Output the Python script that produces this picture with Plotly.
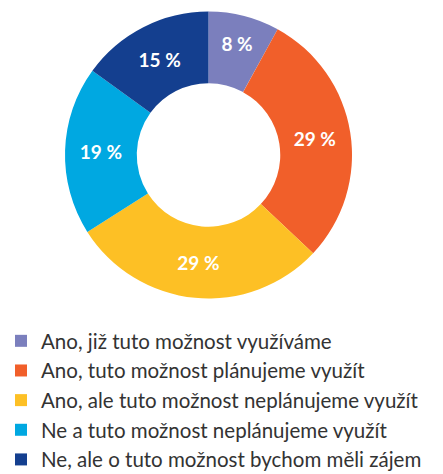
import plotly.graph_objects as go

labels = [
    "Ano, již tuto možnost využíváme",
    "Ano, tuto možnost plánujeme využít",
    "Ano, ale tuto možnost neplánujeme využít",
    "Ne a tuto možnost neplánujeme využít",
    "Ne, ale o tuto možnost bychom měli zájem",
]
values = [8, 29, 29, 19, 15]
colors = ["#7b7fbd", "#f15f2a", "#fdc025", "#00a8e1", "#143f8f"]

W, H = 443, 474
cx, cy, r = 200.5, 147, 143.5

fig = go.Figure(go.Pie(
    labels=labels,
    values=values,
    marker=dict(colors=colors, line=dict(width=0)),
    hole=0.5,
    sort=False,
    direction="clockwise",
    rotation=0,
    texttemplate="%{value} %",
    textposition="inside",
    insidetextorientation="horizontal",
    textfont=dict(color="white", size=19, family="Lato", weight="bold"),
    domain=dict(x=[(cx - r) / W, (cx + r) / W], y=[1 - (cy + r) / H, 1 - (cy - r) / H]),
))

fig.update_layout(
    width=W, height=H,
    margin=dict(l=0, r=0, t=0, b=0),
    paper_bgcolor="white",
    plot_bgcolor="white",
    showlegend=True,
    legend=dict(
        x=0, y=1 - 313 / H, xanchor="left", yanchor="top",
        orientation="v",
        indentation=-7,
        font=dict(family="Lato", size=20.5, color="#333333"),
        tracegroupgap=0,
        itemwidth=30,
    ),
)

fig.write_html("out.html")
